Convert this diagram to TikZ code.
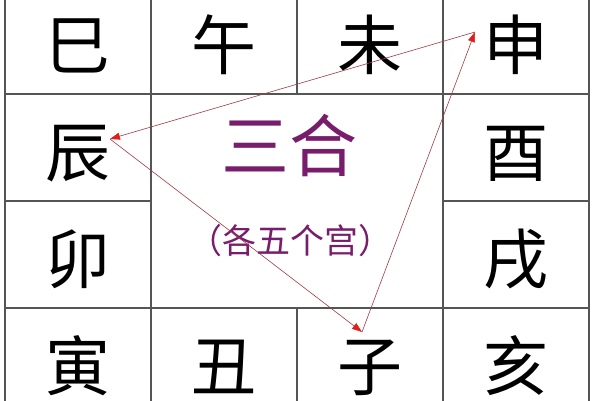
\documentclass[tikz,border=0pt]{standalone}
\usepackage{fontspec}
\newfontfamily\cjk{Noto Sans CJK SC}
\usetikzlibrary{positioning,arrows.meta}
\definecolor{gridgray}{RGB}{85,85,85}
\definecolor{hepurple}{RGB}{120,28,108}
\definecolor{linkred}{RGB}{160,60,70}
\definecolor{tipred}{RGB}{225,30,30}
\begin{document}
\begin{tikzpicture}[x=1pt, y=-1pt,
  cell/.style = {draw=gridgray, line width=1.3pt, outer sep=0pt, inner sep=0pt,
    minimum width=146pt, minimum height=107pt, text height=66pt, text depth=8pt,
    font=\cjk\fontsize{65}{65}\selectfont},
  hehe/.style = {text=hepurple, font=\cjk\fontsize{68}{68}\selectfont},
  note/.style = {text=hepurple, font=\cjk\fontsize{34}{34}\selectfont},
  link/.style = {draw=linkred, line width=0.6pt, -{Triangle[length=10pt,width=7pt,fill=tipred,color=tipred]}}]
  \clip (0,0) rectangle (600,400);
  \fill[white] (0,0) rectangle (600,400);

  \node[cell] (si) at (78,40.5) {巳};
  \node[cell] (wu) [right=0pt of si] {午};
  \node[cell] (wei) [right=0pt of wu] {未};
  \node[cell] (shen) [right=0pt of wei] {申};
  \node[cell] (chen) [below=0pt of si] {辰};
  \node[cell] (mao) [below=0pt of chen] {卯};
  \node[cell] (yin) [below=0pt of mao] {寅};
  \node[cell] (chou) [right=0pt of yin] {丑};
  \node[cell] (zi) [right=0pt of chou] {子};
  \node[cell] (hai) [right=0pt of zi] {亥};
  \node[cell] (you) [below=0pt of shen] {酉};
  \node[cell] (xu) [below=0pt of you] {戌};

  \node[hehe] (sanhe) at (289,145) {三合};
  \node[note] (gewu) at (290,241) {（各五个宫）};

  \coordinate (pchen) at (110,139);
  \coordinate (pshen) at (475,32);
  \coordinate (pzi) at (362,332);

  \draw[link] (pshen) -- (pchen);
  \draw[link] (pchen) -- (pzi);
  \draw[link] (pzi) -- (pshen);
\end{tikzpicture}
\end{document}
